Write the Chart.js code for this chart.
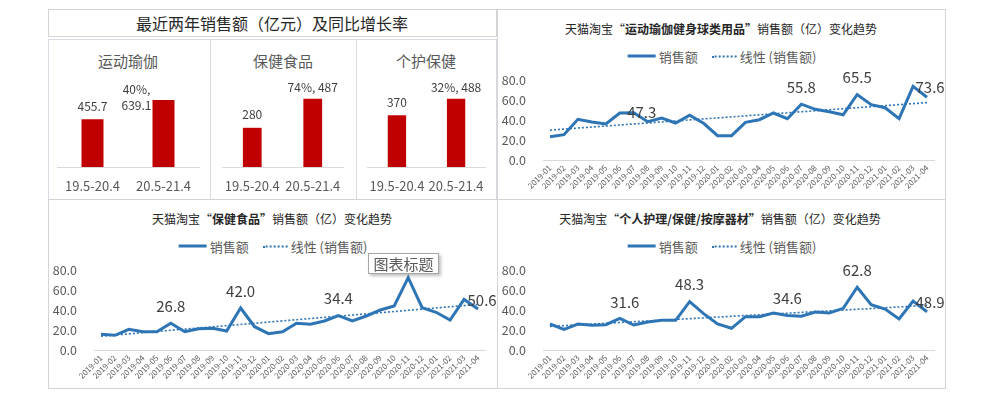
<!DOCTYPE html>
<html>
<head>
<meta charset="utf-8">
<script src="https://cdn.jsdelivr.net/npm/chart.js@4.4.1/dist/chart.umd.min.js"></script>
<style>
  html, body { margin: 0; padding: 0; background: #fff; }
  body { width: 992px; height: 402px; position: relative; overflow: hidden; font-family: "Noto Sans CJK SC", sans-serif; }
  .frame { position: absolute; box-sizing: border-box; border: 1px solid #d4d4d4; }
  .sub { border-color: #d6dae2; }
  .txt { position: absolute; white-space: nowrap; transform: translate(-50%, -50%); }
  .main-title { font-size: 16px; color: #262626; }
  .sub-title { font-size: 15px; color: #595959; }
  .chart-title { font-size: 12px; color: #262626; }
  .chart-title b { font-weight: 700; }
  .legend { position: absolute; transform: translate(-50%, -50%); display: flex; align-items: center; font-size: 13px; color: #595959; white-space: nowrap; }
  .lg-line { display: inline-block; width: 28px; border-top: 3px solid #2E75B6; margin-right: 3px; }
  .lg-dot { display: inline-block; width: 25px; border-top: 2px dotted #2E75B6; margin: 0 3px 0 14px; }
  .tip { position: absolute; left: 368px; top: 253px; width: 71px; height: 21px; box-sizing: border-box; border: 1px solid #a6a6a6; background: #fff;
         box-shadow: 2px 2px 3px rgba(0,0,0,0.25); font-size: 15px; color: #595959; text-align: center; line-height: 19px; }
  canvas { position: absolute; }
</style>
</head>
<body>
  <!-- frames -->
  <div class="frame" style="left:48px;top:9px;width:449px;height:28px"></div>
  <div class="frame sub" style="left:48px;top:39px;width:163px;height:161px"></div>
  <div class="frame sub" style="left:210px;top:39px;width:147px;height:161px"></div>
  <div class="frame sub" style="left:356px;top:39px;width:141px;height:161px"></div>
  <div class="frame" style="left:497px;top:9px;width:449px;height:191px"></div>
  <div class="frame" style="left:48px;top:199px;width:450px;height:190px"></div>
  <div class="frame" style="left:497px;top:199px;width:449px;height:190px"></div>

  <div class="txt main-title" style="left:272px;top:23px">最近两年销售额（亿元）及同比增长率</div>
  <div class="txt sub-title" style="left:128px;top:60px">运动瑜伽</div>
  <div class="txt sub-title" style="left:283px;top:60px">保健食品</div>
  <div class="txt sub-title" style="left:426px;top:60px">个护保健</div>

  <canvas id="bar-0" width="162" height="129" style="left:48px;top:70px"></canvas>
  <canvas id="bar-1" width="146" height="129" style="left:210px;top:70px"></canvas>
  <canvas id="bar-2" width="141" height="129" style="left:356px;top:70px"></canvas>

  <div class="txt chart-title" style="left:721px;top:28px">天猫淘宝“<b>运动瑜伽健身球类用品”</b>销售额（亿）变化趋势</div>
  <div class="legend" style="left:722px;top:56px"><span class="lg-line"></span><span>销售额</span><span class="lg-dot"></span><span>线性 (销售额)</span></div>
  <canvas id="line-yoga" width="449" height="135" style="left:497px;top:64px"></canvas>

  <div class="txt chart-title" style="left:272px;top:218px">天猫淘宝“<b>保健食品”</b>销售额（亿）变化趋势</div>
  <div class="legend" style="left:273px;top:246px"><span class="lg-line"></span><span>销售额</span><span class="lg-dot"></span><span>线性 (销售额)</span></div>
  <canvas id="line-health" width="449" height="129" style="left:48px;top:260px"></canvas>

  <div class="txt chart-title" style="left:720px;top:218px">天猫淘宝“<b>个人护理/保健/按摩器材”</b>销售额（亿）变化趋势</div>
  <div class="legend" style="left:722px;top:246px"><span class="lg-line"></span><span>销售额</span><span class="lg-dot"></span><span>线性 (销售额)</span></div>
  <canvas id="line-care" width="449" height="129" style="left:497px;top:260px"></canvas>

  <div class="tip">图表标题</div>

<script>
/* Data */
const periods = ['19.5-20.4', '20.5-21.4'];
const prevSales = [455.7, 280, 370];
const curSales = [639.1, 487, 488];
const growth = ['40%', '74%', '32%'];
const barAxisMax = [800, 600, 600];

const months = ['2019-01', '2019-02', '2019-03', '2019-04', '2019-05', '2019-06', '2019-07', '2019-08', '2019-09', '2019-10',
  '2019-11', '2019-12', '2020-01', '2020-02', '2020-03', '2020-04', '2020-05', '2020-06', '2020-07', '2020-08',
  '2020-09', '2020-10', '2020-11', '2020-12', '2021-01', '2021-02', '2021-03', '2021-04'];
const yogaSales = [23.3, 25.3, 40.7, 38.0, 36.0, 47.0, 47.3, 38.3, 42.0, 37.0, 44.7, 36.7, 24.3, 24.3,
  37.7, 40.3, 47.0, 41.3, 55.8, 50.7, 48.3, 45.3, 65.5, 55.3, 52.3, 41.3, 73.6, 62.7];
const healthSales = [15.7, 14.7, 20.7, 18.3, 18.3, 26.8, 18.3, 21.3, 21.7, 19.0, 42.0, 23.3, 16.3, 18.3,
  26.7, 25.7, 29.0, 34.4, 29.0, 34.0, 40.0, 44.0, 72.3, 42.3, 37.7, 30.0, 50.6, 41.0];
const careSales = [26.0, 20.7, 26.0, 24.7, 25.3, 31.6, 25.0, 28.0, 29.7, 29.7, 48.3, 36.3, 26.0, 21.7,
  33.3, 33.3, 37.0, 34.6, 33.7, 38.0, 37.0, 41.7, 62.8, 45.3, 41.0, 31.0, 48.9, 38.3];
const yAxisTicks = [0, 20, 40, 60, 80];

// which points carry a value label
const yogaLabelIdx = [6, 18, 22, 26];
const healthLabelIdx = [5, 10, 17, 26];
const careLabelIdx = [5, 10, 17, 22, 26];

(function () {
  const BLUE = '#2E75B6';
  const AXIS = '#595959';
  Chart.defaults.font.family = '"Noto Sans CJK SC", sans-serif';

  /* linear trendline, as Excel does it */
  function linearTrend(values) {
    const n = values.length;
    let sx = 0, sy = 0, sxy = 0, sxx = 0;
    values.forEach(function (v, i) { sx += i; sy += v; sxy += i * v; sxx += i * i; });
    const b = (n * sxy - sx * sy) / (n * sxx - sx * sx);
    const a = (sy - b * sx) / n;
    return values.map(function (v, i) { return a + b * i; });
  }

  /* value labels on the line */
  const pointLabels = {
    id: 'pointLabels',
    afterDatasetsDraw: function (chart, args, opts) {
      const meta = chart.getDatasetMeta(0);
      const data = chart.data.datasets[0].data;
      const ctx = chart.ctx;
      ctx.save();
      ctx.font = '15px "Noto Sans CJK SC", sans-serif';
      ctx.fillStyle = '#404040';
      ctx.textAlign = 'center';
      ctx.textBaseline = 'middle';
      opts.idx.forEach(function (i) {
        const off = opts.offsets[i] || [0, -17];
        const pt = meta.data[i];
        ctx.fillText(data[i].toFixed(1), pt.x + off[0], pt.y + off[1]);
      });
      ctx.restore();
    }
  };

  /* labels over the bars */
  const barLabels = {
    id: 'barLabels',
    afterDatasetsDraw: function (chart, args, opts) {
      const meta = chart.getDatasetMeta(0);
      const data = chart.data.datasets[0].data;
      const ctx = chart.ctx;
      ctx.save();
      ctx.font = '12px "Noto Sans CJK SC", sans-serif';
      ctx.fillStyle = '#404040';
      ctx.textAlign = 'center';
      ctx.textBaseline = 'middle';
      const b0 = meta.data[0], b1 = meta.data[1];
      ctx.fillText(String(data[0]), b0.x, b0.y - 13);
      if (opts.wrap) {
        ctx.fillText(opts.growth + ',', b1.x - 27, b1.y - 10);
        ctx.fillText(String(data[1]), b1.x - 27, b1.y + 6);
      } else {
        ctx.fillText(opts.growth + ', ' + data[1], b1.x, b1.y - 11);
      }
      ctx.restore();
    }
  };

  function barChart(k, pad) {
    new Chart(document.getElementById('bar-' + k), {
      type: 'bar',
      data: {
        labels: periods,
        datasets: [{ data: [prevSales[k], curSales[k]], backgroundColor: '#C00000', borderWidth: 0,
          categoryPercentage: 1, barPercentage: 0.31 }]
      },
      options: {
        responsive: false,
        animation: false,
        layout: { padding: { left: pad[0], right: pad[1], top: 13, bottom: 0 } },
        plugins: { legend: { display: false }, tooltip: { enabled: false },
          barLabels: { growth: growth[k], wrap: k === 0 } },
        scales: {
          x: { grid: { display: false, drawTicks: false }, border: { display: true, color: '#d9d9d9' },
            ticks: { color: AXIS, font: { size: 13 }, padding: 11, maxRotation: 0, minRotation: 0, autoSkip: false },
            afterFit: function (s) { s.height = 32; } },
          y: { display: false, min: 0, max: barAxisMax[k] }
        }
      },
      plugins: [barLabels]
    });
  }

  function lineChart(id, sales, idx, offsets, padLeft, padTop) {
    new Chart(document.getElementById(id), {
      type: 'line',
      data: {
        labels: months,
        datasets: [
          { label: '销售额', data: sales, borderColor: BLUE, borderWidth: 3, pointRadius: 0, tension: 0, order: 0 },
          { label: '线性 (销售额)', data: linearTrend(sales), borderColor: BLUE, borderWidth: 1.6,
            borderDash: [2, 2], pointRadius: 0, order: 1 }
        ]
      },
      options: {
        responsive: false,
        animation: false,
        layout: { padding: { left: 0, right: 12, top: padTop, bottom: 0 } },
        plugins: { legend: { display: false }, tooltip: { enabled: false },
          pointLabels: { idx: idx, offsets: offsets } },
        scales: {
          x: { offset: true, grid: { display: false, drawTicks: false }, border: { display: true, color: '#d9d9d9' },
            ticks: { color: AXIS, font: { size: 8 }, minRotation: 45, maxRotation: 45, autoSkip: false, padding: 3 },
            afterFit: function (s) { s.height = 39; } },
          y: { min: 0, max: 80, grid: { display: false, drawTicks: false }, border: { display: false },
            afterBuildTicks: function (s) { s.ticks = yAxisTicks.map(function (v) { return { value: v }; }); },
            ticks: { color: AXIS, font: { size: 12.5 }, padding: 17, autoSkip: false,
              callback: function (v) { return Number(v).toFixed(1); } },
            afterFit: function (s) { s.width = padLeft; s.paddingTop = 0; s.paddingBottom = 0; } }
        }
      },
      plugins: [pointLabels]
    });
  }

  /* Bars */
  barChart(0, [9, 11]);
  barChart(1, [12, 13]);
  barChart(2, [10, 11]);

  /* Lines */
  lineChart('line-yoga', yogaSales, yogaLabelIdx, { 6: [8, 0], 26: [17, 1] }, 46, 16);
  lineChart('line-health', healthSales, healthLabelIdx, { 26: [18, 1] }, 46, 10);
  lineChart('line-care', careSales, careLabelIdx, { 5: [5, -16], 26: [17, 1] }, 46, 10);
})();
</script>
</body>
</html>
